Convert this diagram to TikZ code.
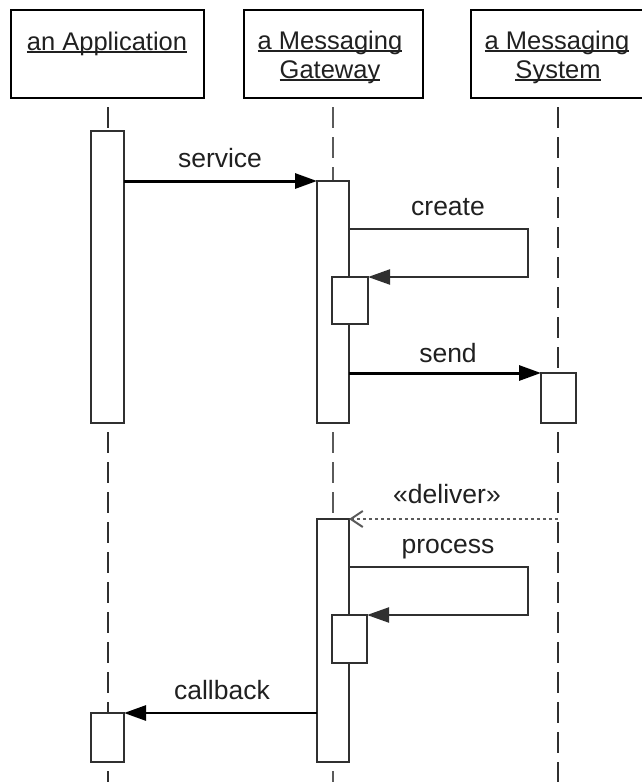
\documentclass[tikz,border=0pt]{standalone}
\usepackage{fontspec}
\setmainfont{Liberation Sans}
\usetikzlibrary{arrows.meta}
\definecolor{ln}{HTML}{303030}
\definecolor{lg}{HTML}{5A5A5A}
\definecolor{tx}{HTML}{202020}
\newlength\ulw
\newcommand\ulin[1]{\settowidth\ulw{#1}\makebox[0pt][l]{\rule[-2.6pt]{\ulw}{1.5pt}}#1}
\begin{document}
\begin{tikzpicture}[x=1pt,y=-1pt,
  hdrbox/.style={draw=black, line width=2.6pt, fill=white, rectangle, minimum width=193pt, minimum height=88pt, inner sep=0pt, outer sep=0pt, anchor=north west},
  hdrtxt/.style={anchor=base, inner sep=0pt, text=tx, font=\fontsize{25.5}{29}\selectfont},
  bar/.style={draw=ln, line width=2pt, fill=white, rectangle, inner sep=0pt, outer sep=0pt, anchor=north west},
  lifeline/.style={draw=ln, line width=2.6pt, dash pattern=on 21pt off 9pt, dash phase=21pt},
  lifegray/.style={lifeline, draw=lg, line width=2.2pt},
  msg/.style={draw=black, line width=3pt, -{Triangle[length=22pt,width=15pt]}},
  selfmsg/.style={draw=ln, line width=2.2pt, -{Triangle[length=22pt,width=15pt]}},
  retmsg/.style={draw=lg, line width=1.6pt, dash pattern=on 3pt off 3pt, -{Straight Barb[length=12pt,width=16pt,line width=2pt]}},
  lbl/.style={anchor=base, inner sep=0pt, text=tx, font=\fontsize{26.5}{30}\selectfont}
]
\useasboundingbox (0,0) rectangle (642,782);

% header boxes
\node[hdrbox] (appbox) at (11,10) {};
\node[hdrbox, minimum width=179pt] (gwbox) at (244,10) {};
\node[hdrbox, minimum width=179pt] (sysbox) at (471,10) {};
\node[hdrtxt] (apptxt) at (107,50) {\ulin{an Application}};
\node[hdrtxt] (gwtxta) at (330,49) {\ulin{a Messaging}};
\node[hdrtxt] (gwtxtb) at (330,78) {\ulin{Gateway}};
\node[hdrtxt] (systxta) at (557,49) {\ulin{a Messaging}};
\node[hdrtxt] (systxtb) at (558,78) {\ulin{System}};

% bottom ends of lifelines
\coordinate (append) at (108,782);
\coordinate (gwend) at (333,782);
\coordinate (sysend) at (558,782);

% lifelines
\draw[lifeline] (108,98) -- (108,131);
\draw[lifeline] (108,423) -- (108,713);
\draw[lifeline] (108,762) -- (append);
\draw[lifegray] (333,98) -- (333,181);
\draw[lifegray] (333,423) -- (333,519);
\draw[lifegray] (333,762) -- (gwend);
\draw[lifeline] (558,98) -- (558,373);
\draw[lifeline] (558,423) -- (sysend);

% activation bars
\node[bar, minimum width=33pt, minimum height=292pt] (app1) at (91,131) {};
\node[bar, minimum width=33pt, minimum height=49pt] (app2) at (91,713) {};
\node[bar, minimum width=32pt, minimum height=242pt] (gw1) at (317,181) {};
\node[bar, minimum width=32pt, minimum height=243pt] (gw2) at (317,519) {};
\node[bar, minimum width=36pt, minimum height=47pt] (n1) at (332,277) {};
\node[bar, minimum width=35pt, minimum height=48pt] (n2) at (332,615) {};
\node[bar, minimum width=35pt, minimum height=50pt] (sys1) at (541,373) {};

% messages
\coordinate (c1) at (528,229);
\coordinate (c2) at (528,567);
\coordinate (d1) at (558,519);

\draw[msg] (app1.north east |- gw1.north west) -- (gw1.north west);
\node[lbl] (lservice) at (220,167) {service};

\draw[selfmsg] (gw1.east |- c1) -- (c1) |- (n1.north east);
\node[lbl] (lcreate) at (448,215) {create};

\draw[msg] (gw1.east |- sys1.north west) -- (sys1.north west);
\node[lbl] (lsend) at (448,362) {send};

\draw[retmsg] (d1) -- (gw2.north east);
\node[lbl] (ldeliver) at (447,503) {«deliver»};

\draw[selfmsg] (gw2.east |- c2) -- (c2) |- (n2.north east);
\node[lbl] (lprocess) at (448,553) {process};

\draw[msg, line width=2.6pt] (gw2.west |- app2.north east) -- (app2.north east);
\node[lbl] (lcallback) at (222,699) {callback};
\end{tikzpicture}
\end{document}
